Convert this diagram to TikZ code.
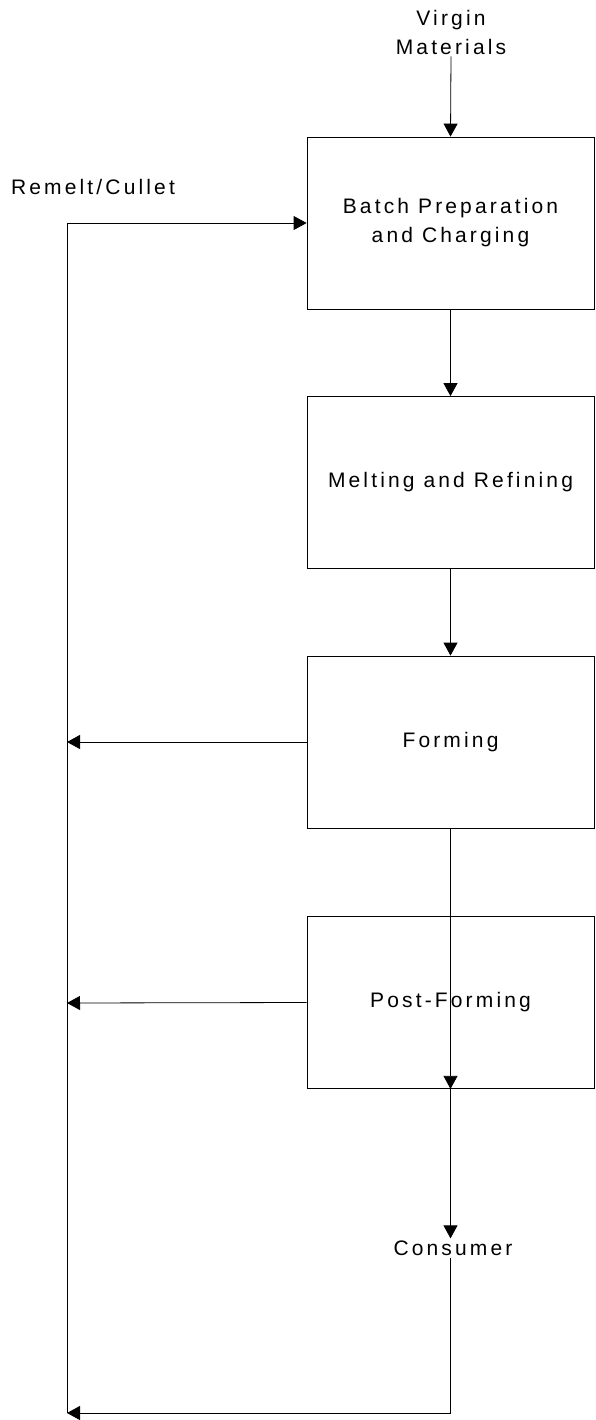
\documentclass[tikz,border=0pt]{standalone}
\usepackage{fontspec}
\setmainfont{Liberation Sans}[LetterSpace=15]
\usetikzlibrary{arrows.meta}
\begin{document}
\begin{tikzpicture}[x=1pt,y=-1pt,
  every node/.style={font=\fontsize{21}{29}\selectfont, align=center, inner sep=0pt},
  procbox/.style={draw, line width=0.8pt, minimum width=287pt, minimum height=172pt},
  lbl/.style={inner sep=2pt},
  conn/.style={line width=0.8pt},
  arr/.style={conn, -{Triangle[length=13pt,width=14pt]}}]
\useasboundingbox (0,0) rectangle (595,1420);
\node[procbox] (batch) at (450.5,223) {Batch Preparation\\and Charging};
\node[procbox] (melt) at (450.5,482.5) {Melting and Refining};
\node[procbox] (form) at (450.5,742) {Forming};
\node[procbox] (post) at (450.5,1002.5) {Post-Forming};
\node[lbl] (virgin) at (451,32) {Virgin\\Materials};
\node[lbl] (remelt) at (93,187) {Remelt/Cullet};
\node[lbl] (cons) at (453,1248) {Consumer};
\coordinate (loopbot) at (67,1413);
\coordinate (looptop) at (67,223);
\coordinate (fback) at (67,742);
\coordinate (pback) at (67,1003);
\draw[arr] (virgin.south) -- (batch.north);
\draw[arr] (batch.south) -- (melt.north);
\draw[arr] (melt.south) -- (form.north);
\draw[arr] (form.south) -- (post.south);
\draw[arr] (post.south) -- (post.south |- cons.north);
\draw[arr] (post.south |- cons.south) |- (loopbot);
\draw[arr] (loopbot) -- (looptop) -- (batch.west);
\draw[arr] (form.west) -- (fback);
\draw[arr] (post.west) -- (pback);
\end{tikzpicture}
\end{document}
